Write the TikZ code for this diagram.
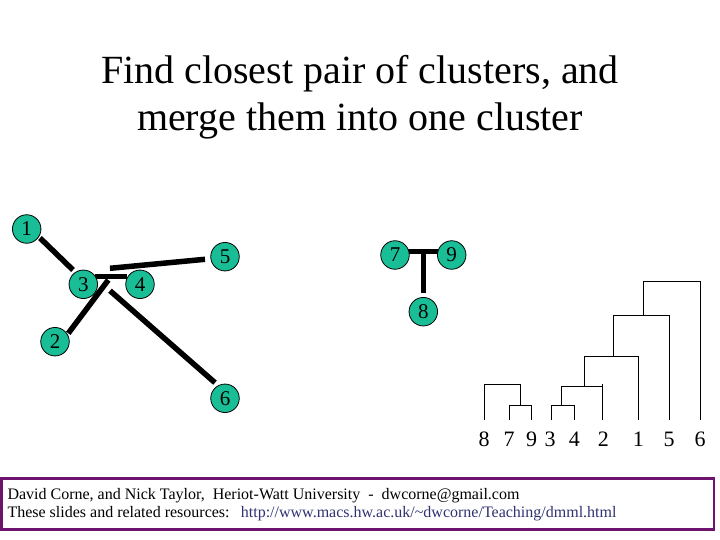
\documentclass[tikz,border=0pt]{standalone}
\usepackage{fontspec}
\setmainfont{Liberation Serif}
\definecolor{teal1}{RGB}{25,190,150}
\definecolor{boxpurple}{RGB}{110,20,110}
\definecolor{urlblue}{RGB}{50,50,115}
\begin{document}
\begin{tikzpicture}[x=1pt,y=-1pt,
  pt/.style={circle,draw=black,line width=0.8pt,fill=teal1,minimum size=28.5pt,inner sep=0pt,font=\fontsize{21}{21}\selectfont},
  link/.style={line width=5.5pt,black},
  dend/.style={line width=1pt,black},
  leaf/.style={anchor=base,inner sep=0pt,font=\fontsize{22}{22}\selectfont},
  title/.style={anchor=base,inner sep=0pt,font=\fontsize{40}{40}\selectfont},
  foot/.style={anchor=base west,inner sep=0pt,font=\fontsize{16}{16}\selectfont}]
\useasboundingbox (0,0) rectangle (720,540);
\fill[white] (0,0) rectangle (720,540);
% title
\node[title] (t1) at (360,84) {Find closest pair of clusters, and};
\node[title] (t2) at (360,131) {merge them into one cluster};
% links (behind circles)
\draw[link] (40,238) -- (73,270);
\draw[link] (110,268.3) -- (205,259.3);
\draw[link] (95,276.7) -- (126.7,276.7);
\draw[link] (68.3,333.3) -- (108.3,280);
\draw[link] (110,290.7) -- (215,382.7);
\draw[link] (406.7,251.7) -- (438.3,251.7);
\draw[link] (423.3,251.7) -- (423.3,293.3);
% points
\node[pt] (p1) at (26.7,229) {1};
\node[pt] (p3) at (83.3,284.3) {3};
\node[pt] (p4) at (140,284.3) {4};
\node[pt] (p5) at (225,256.7) {5};
\node[pt] (p2) at (55,341.7) {2};
\node[pt] (p6) at (225,398.3) {6};
\node[pt] (p7) at (395,255) {7};
\node[pt] (p9) at (451.7,255) {9};
\node[pt] (p8) at (423.3,311.7) {8};
% dendrogram labels
\node[leaf] (l8) at (484,446.7) {8};
\node[leaf] (l7) at (509,446.7) {7};
\node[leaf] (l9) at (531.7,446.7) {9};
\node[leaf] (l3) at (550,446.7) {3};
\node[leaf] (l4) at (574.3,446.7) {4};
\node[leaf] (l2) at (603.3,446.7) {2};
\node[leaf] (l1) at (638.3,446.7) {1};
\node[leaf] (l5) at (669,446.7) {5};
\node[leaf] (l6) at (700,446.7) {6};
% dendrogram
\draw[dend] (484,420) -- (484,384) -- (520,384) -- (520,405.7);
\draw[dend] (509,420) -- (509,405.7) -- (531.7,405.7) -- (531.7,420);
\draw[dend] (551.7,420) -- (551.7,405.7) -- (574.3,405.7) -- (574.3,420);
\draw[dend] (561.7,405.7) -- (561.7,386.7) -- (602.7,386.7);
\draw[dend] (602.7,384) -- (602.7,420);
\draw[dend] (584.3,386.7) -- (584.3,356.7) -- (638.3,356.7) -- (638.3,420);
\draw[dend] (613.3,356.7) -- (613.3,315) -- (669,315) -- (669,420);
\draw[dend] (643.3,315) -- (643.3,281) -- (700,281) -- (700,420);
% footer
\draw[boxpurple,line width=2.5pt] (1.5,478.3) rectangle (714,529.3);
\node[foot] (f1) at (7.3,499.3) {David Corne, and Nick Taylor,\ \ Heriot-Watt University\ \ -\ \ dwcorne@gmail.com};
\node[foot] (f2) at (7.3,517.7) {These slides and related resources:};
\node[foot,text=urlblue] (f3) at (240.7,517.7) {http://www.macs.hw.ac.uk/\textasciitilde dwcorne/Teaching/dmml.html};
\end{tikzpicture}
\end{document}
